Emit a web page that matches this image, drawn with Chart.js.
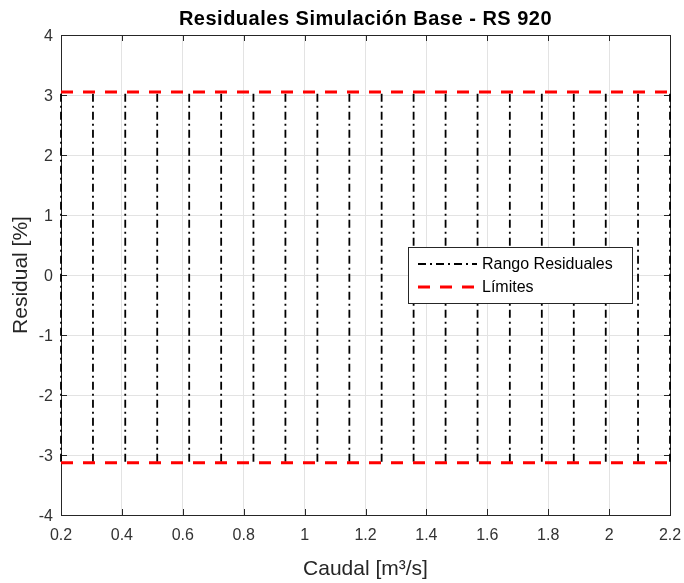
<!DOCTYPE html>
<html>
<head>
<meta charset="utf-8">
<script src="https://cdn.jsdelivr.net/npm/chart.js@4/dist/chart.umd.min.js"></script>
<style>
  html, body { margin: 0; padding: 0; background: #fff; }
  #wrap { width: 684px; height: 583px; position: relative; }
</style>
</head>
<body>
<div id="wrap"><canvas id="chart"></canvas></div>
<script>
const chartTitle = 'Residuales Simulación Base - RS 920'
const xTicks = [0.2, 0.4, 0.6, 0.8, 1, 1.2, 1.4, 1.6, 1.8, 2, 2.2]
const yTicks = [-4, -3, -2, -1, 0, 1, 2, 3, 4]

// caudal of each residual range bar
const caudal = [0.2, 0.305, 0.411, 0.516, 0.621, 0.726, 0.832, 0.937, 1.042, 1.147,
                1.253, 1.358, 1.463, 1.568, 1.674, 1.779, 1.884, 1.989, 2.095, 2.2]
const residualMax = [3.02, 3.02, 3.02, 3.02, 3.02, 3.02, 3.02, 3.02, 3.02, 3.02,
                     3.02, 3.02, 3.02, 3.02, 3.02, 3.02, 3.02, 3.02, 3.02, 3.02]
const residualMin = [-3.13, -3.13, -3.13, -3.13, -3.13, -3.13, -3.13, -3.13, -3.13, -3.13,
                     -3.13, -3.13, -3.13, -3.13, -3.13, -3.13, -3.13, -3.13, -3.13, -3.13]
const limitRange = [0.2, 2.2]
const limitUpper = 3.05
const limitLower = -3.13

Chart.defaults.font.family = '"Liberation Sans", Arial, sans-serif'
Chart.defaults.color = '#333'

// one dataset, bars separated by null gaps
const rangoData = []
caudal.forEach((q, i) => {
    rangoData.push({ x: q, y: residualMax[i] }, { x: q, y: residualMin[i] }, { x: q, y: null })
})
const limitData = [
    { x: limitRange[0], y: limitUpper }, { x: limitRange[1], y: limitUpper }, { x: limitRange[1], y: null },
    { x: limitRange[0], y: limitLower }, { x: limitRange[1], y: limitLower }
]

const rango = {
    label: 'Rango Residuales',
    data: rangoData,
    borderColor: '#000',
    borderWidth: 1.8,
    borderDash: [8, 4, 2, 4],
    pointRadius: 0,
    spanGaps: false,
    clip: false,
    order: 2
}

const limites = {
    label: 'Límites',
    data: limitData,
    borderColor: '#ff0000',
    borderWidth: 3,
    borderDash: [12, 10],
    pointRadius: 0,
    spanGaps: false,
    clip: false,
    order: 1
}

// MATLAB-like box, inward ticks, title and legend
const matlabAxes = {
    id: 'matlabAxes',
    beforeDatasetsDraw(chart) {
        const { ctx, chartArea: { left, right, top, bottom }, scales: { x, y } } = chart
        ctx.save()
        ctx.strokeStyle = '#262626'
        ctx.lineWidth = 1
        ctx.beginPath()
        xTicks.forEach(v => {
            const px = Math.round(x.getPixelForValue(v)) + 0.5
            ctx.moveTo(px, bottom); ctx.lineTo(px, bottom - 6)
            ctx.moveTo(px, top); ctx.lineTo(px, top + 6)
        })
        yTicks.forEach(v => {
            const py = Math.round(y.getPixelForValue(v)) + 0.5
            ctx.moveTo(left, py); ctx.lineTo(left + 6, py)
            ctx.moveTo(right, py); ctx.lineTo(right - 6, py)
        })
        ctx.stroke()
        ctx.strokeRect(Math.round(left) + 0.5, Math.round(top) + 0.5, Math.round(right - left), Math.round(bottom - top))
        ctx.restore()
    },
    afterDatasetsDraw(chart) {
        const { ctx, chartArea: { left, right } } = chart
        ctx.save()
        // legend
        const bx = 408.5, by = 247.5, bw = 224, bh = 56
        ctx.fillStyle = '#fff'
        ctx.fillRect(bx, by, bw, bh)
        ctx.strokeStyle = '#262626'
        ctx.lineWidth = 1
        ctx.strokeRect(bx, by, bw, bh)
        const rows = [264, 287]
        chart.data.datasets.forEach((ds, i) => {
            ctx.beginPath()
            ctx.strokeStyle = ds.borderColor
            ctx.lineWidth = ds.borderWidth
            ctx.setLineDash(ds.borderDash)
            ctx.moveTo(418, rows[i]); ctx.lineTo(477, rows[i])
            ctx.stroke()
            ctx.setLineDash([])
            ctx.fillStyle = '#000'
            ctx.font = '16px "Liberation Sans", Arial, sans-serif'
            ctx.textAlign = 'left'
            ctx.textBaseline = 'middle'
            ctx.fillText(ds.label, 482, rows[i] + 1)
        })
        // title
        ctx.fillStyle = '#000'
        ctx.font = 'bold 20px "Liberation Sans", Arial, sans-serif'
        ctx.letterSpacing = '0.5px'
        ctx.textAlign = 'center'
        ctx.textBaseline = 'middle'
        ctx.fillText(chartTitle, (left + right) / 2, 19)
        ctx.restore()
    }
}

const config = {
    type: 'line',
    data: { datasets: [rango, limites] },
    options: {
        responsive: true,
        maintainAspectRatio: false,
        animation: false,
        layout: { padding: { left: 0, right: 14, top: 35, bottom: 0 } },
        plugins: {
            legend: { display: false },
            title: { display: false },
            tooltip: { enabled: false }
        },
        scales: {
            x: {
                type: 'linear',
                min: 0.2,
                max: 2.2,
                afterBuildTicks: scale => { scale.ticks = xTicks.map(v => ({ value: v })) },
                afterFit: scale => {
                    scale.height = 68
                    scale.paddingLeft = 0
                    scale.paddingRight = 0
                },
                ticks: {
                    callback: v => String(+v.toFixed(1)),
                    font: { size: 16 },
                    padding: 11,
                    maxRotation: 0,
                    autoSkip: false
                },
                grid: { color: '#e3e3e3', drawTicks: false },
                border: { display: false },
                title: {
                    display: true,
                    text: 'Caudal [m³/s]',
                    color: '#262626',
                    font: { size: 21 },
                    padding: { top: 0, bottom: 1 }
                }
            },
            y: {
                type: 'linear',
                min: -4,
                max: 4,
                afterBuildTicks: scale => { scale.ticks = yTicks.map(v => ({ value: v })) },
                afterFit: scale => {
                    scale.width = 61
                    scale.paddingTop = 0
                    scale.paddingBottom = 0
                },
                ticks: {
                    callback: v => String(v),
                    font: { size: 16 },
                    padding: 8,
                    labelOffset: 2,
                    autoSkip: false
                },
                grid: { color: '#e3e3e3', drawTicks: false },
                border: { display: false },
                title: {
                    display: true,
                    text: 'Residual [%]',
                    color: '#262626',
                    font: { size: 21 },
                    padding: { top: 9, bottom: 0 }
                }
            }
        }
    },
    plugins: [matlabAxes]
}

const chart = new Chart(document.getElementById('chart'), config)
</script>
</body>
</html>
